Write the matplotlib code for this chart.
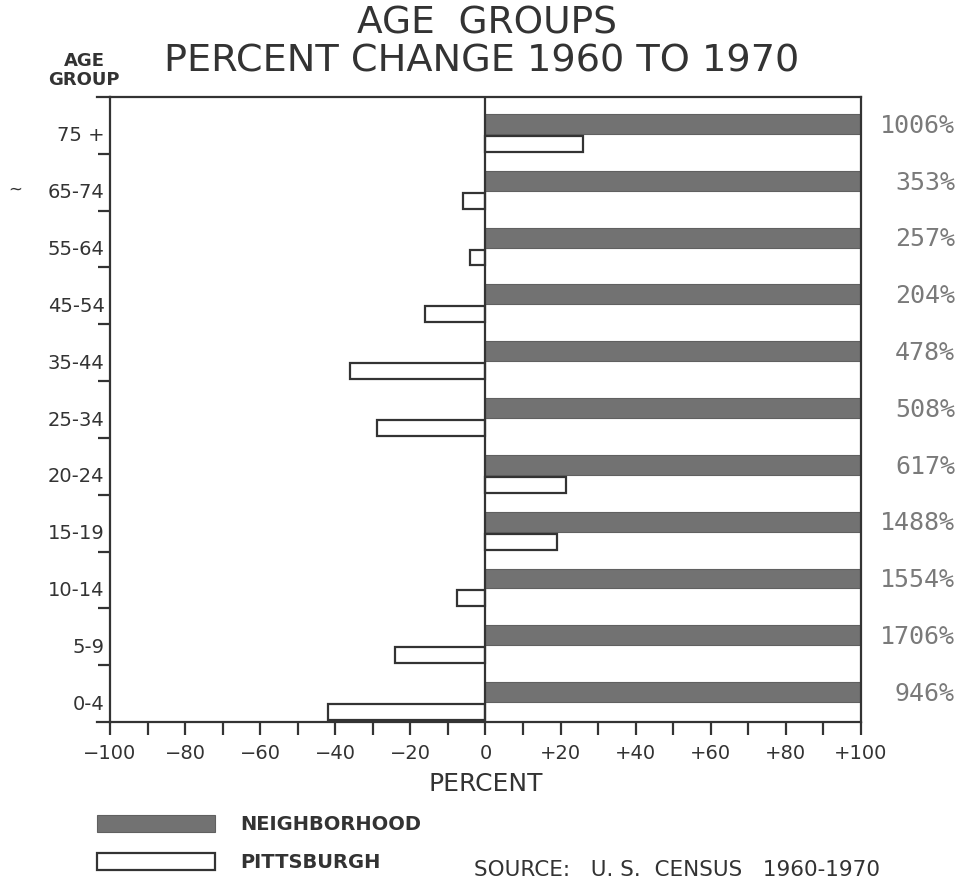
import matplotlib.pyplot as plt
from matplotlib.patches import Rectangle

# age groups from bottom to top
groups = ['0-4', '5-9', '10-14', '15-19', '20-24', '25-34',
          '35-44', '45-54', '55-64', '65-74', '75 +']
neighborhood = [946, 1706, 1554, 1488, 617, 508, 478, 204, 257, 353, 1006]
pittsburgh = [-42, -24, -7.5, 19, 21.5, -29, -36, -16, -4, -6, 26]
xticks = [-100, -80, -60, -40, -20, 0, 20, 40, 60, 80, 100]
xticklabels = ['\u2212100', '\u221280', '\u221260', '\u221240', '\u221220', '0',
               '+20', '+40', '+60', '+80', '+100']

ink = '#333333'
gray = '#727272'

fig = plt.figure(figsize=(9.57, 8.82), dpi=100)
ax = fig.add_axes([110/957, 1-722/882, 751/957, 625/882])

ypos = range(len(groups))
# neighbourhood bars run off the scale, clipped at +100
ax.barh([i + 0.525 for i in ypos], neighborhood, height=0.35, left=0,
        color=gray, edgecolor='#606060', linewidth=0.8)
ax.barh([i + 0.175 for i in ypos], pittsburgh, height=0.28, left=0,
        color='white', edgecolor=ink, linewidth=1.6)

ax.set_xlim(-100, 100)
ax.set_ylim(0, 11)
ax.axvline(0, color=ink, lw=1.6)

for s in ax.spines.values():
    s.set_color(ink)
    s.set_linewidth(1.6)

ax.set_xticks(xticks)
ax.set_xticklabels(xticklabels, fontsize=14, color=ink)
ax.set_xticks(range(-90, 100, 20), minor=True)
ax.tick_params(axis='x', which='both', direction='out', length=9, width=1.6,
               color=ink, pad=7)

ax.set_yticks([i + 0.35 for i in ypos])
ax.set_yticklabels(groups, fontsize=14, color=ink)
ax.set_yticks(range(1, 11), minor=True)
ax.tick_params(axis='y', which='major', length=0, pad=4)
ax.tick_params(axis='y', which='minor', direction='out', length=9, width=1.6,
               color=ink)

# top and bottom lines run a little past the left axis
ax.plot([-103.5, -100], [11, 11], color=ink, lw=1.6, clip_on=False)
ax.plot([-103.5, -100], [0, 0], color=ink, lw=1.6, clip_on=False)

for i in ypos:
    ax.text(955/957, 1 - ((722 - (i + 0.525) * 625/11)) / 882 - 0.002,
            f'{neighborhood[i]}%', transform=fig.transFigure,
            ha='right', va='center', fontsize=18, color='#7a7a7a',
            family='DejaVu Sans Mono')

ax.set_xlabel('PERCENT', fontsize=18, color=ink, labelpad=6)

fig.text(487/957, 1-23/882, 'AGE  GROUPS', ha='center', va='center',
         fontsize=27, color=ink)
fig.text(482/957, 1-62/882, 'PERCENT CHANGE 1960 TO 1970', ha='center',
         va='center', fontsize=27.5, color=ink)
fig.text(84/957, 1-61/882, 'AGE', ha='center', va='center', fontsize=13,
         color=ink, weight='bold')
fig.text(84/957, 1-80/882, 'GROUP', ha='center', va='center', fontsize=13,
         color=ink, weight='bold')
fig.text(8/957, 1-190/882, '~', ha='left', va='center', fontsize=12,
         color=ink)

# legend drawn by hand, as in the original
fig.patches.append(Rectangle((97/957, 1-832/882), 118/957, 17/882,
                             transform=fig.transFigure, facecolor=gray,
                             edgecolor='#606060', lw=0.8))
fig.patches.append(Rectangle((97/957, 1-870/882), 118/957, 17/882,
                             transform=fig.transFigure, facecolor='white',
                             edgecolor=ink, lw=1.6))
fig.text(240/957, 1-825/882, 'NEIGHBORHOOD', ha='left', va='center',
         fontsize=14, color=ink, weight='bold')
fig.text(240/957, 1-862/882, 'PITTSBURGH', ha='left', va='center',
         fontsize=14, color=ink, weight='bold')
fig.text(880/957, 1-870/882, 'SOURCE:   U. S.  CENSUS   1960-1970',
         ha='right', va='center', fontsize=15.5, color=ink)

fig.savefig('out.png', dpi=100)
